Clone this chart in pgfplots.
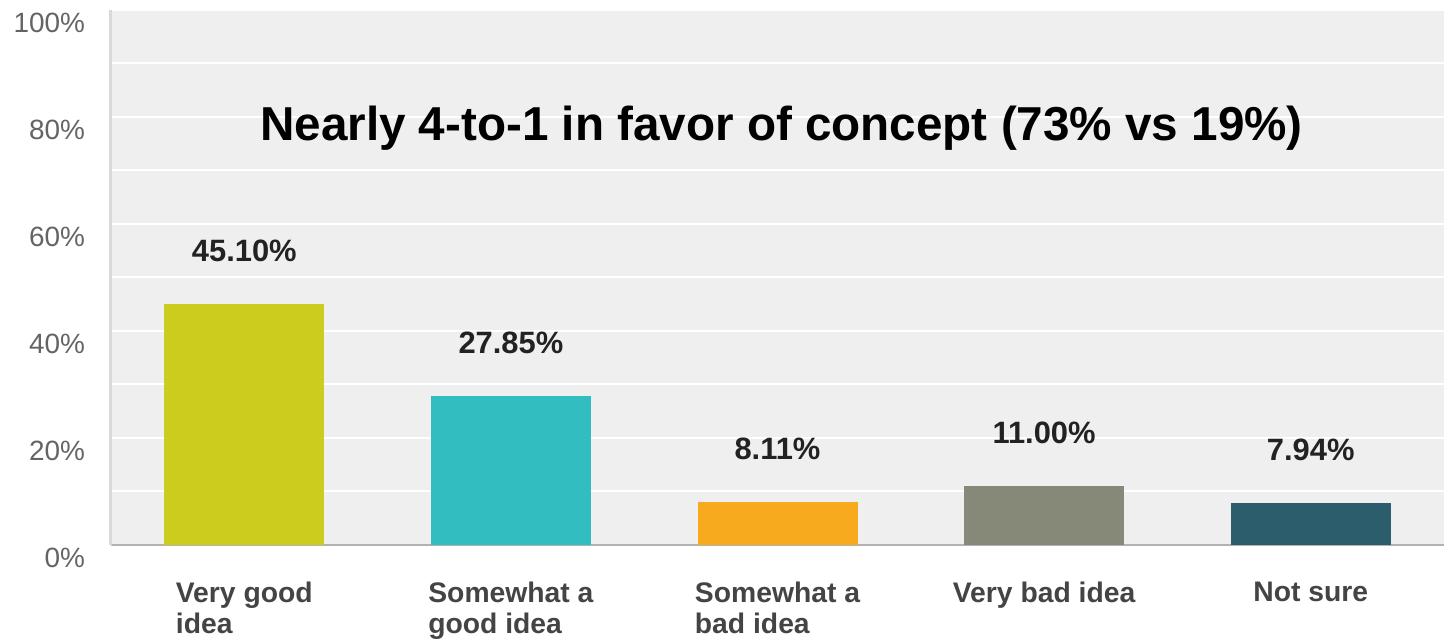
\documentclass[border=0pt]{standalone}
\usepackage{fontspec}
\setmainfont{Liberation Sans}
\usepackage{pgfplots}
\pgfplotsset{compat=1.18}
\definecolor{bgc}{RGB}{239,239,239}
\definecolor{cA}{RGB}{202,205,30}
\definecolor{cB}{RGB}{50,190,192}
\definecolor{cC}{RGB}{247,170,30}
\definecolor{cD}{RGB}{135,137,120}
\definecolor{cE}{RGB}{44,93,108}
\definecolor{tickc}{RGB}{100,100,100}
\definecolor{catc}{RGB}{68,68,68}
\definecolor{valc}{RGB}{34,34,34}
\begin{document}
\begin{tikzpicture}
\begin{axis}[
    name=ax,
    scale only axis,
    width=666.5bp, height=267.5bp,
    xmin=-0.5, xmax=4.5, ymin=0, ymax=100,
    axis background/.style={fill=bgc},
    axis x line*=bottom, axis y line*=left,
    x axis line style={draw=black!30, line width=1bp},
    y axis line style={draw=black!15, line width=1.5bp},
    ytick={0,20,...,100}, minor ytick={10,30,...,90},
    ymajorgrids, yminorgrids,
    major grid style={white, line width=1bp},
    minor grid style={white, line width=1bp},
    major tick length=0pt, minor tick length=0pt,
    /pgf/number format/assume math mode=true,
    yticklabel={\pgfmathprintnumber{\tick}\%},
    yticklabel style={font=\fontsize{14}{16}\selectfont, text=tickc, xshift=-9.5bp, yshift=-6.3bp},
    xtick={0,...,4},
    xticklabels={{Very good\\idea},{Somewhat a\\good idea},{Somewhat a\\bad idea},{Very bad idea},{Not sure}},
    xticklabel style={align=left, font=\bfseries\fontsize{14.2}{15.5}\selectfont, text=catc, yshift=-15bp},
    ybar, bar width=80bp,
    nodes near coords={\pgfmathprintnumber[fixed,fixed zerofill,precision=2]{\pgfplotspointmeta}\%},
    nodes near coords style={font=\bfseries\fontsize{15.5}{18}\selectfont, text=valc, anchor=center, yshift=26.5bp},
    clip=false,
    onebar/.style={fill=#1, draw=none, bar shift=0pt},
]
\addplot[onebar=cA] coordinates {(0,45.10)};
\addplot[onebar=cB] coordinates {(1,27.85)};
\addplot[onebar=cC] coordinates {(2,8.11)};
\addplot[onebar=cD] coordinates {(3,11.00)};
\addplot[onebar=cE] coordinates {(4,7.94)};
\node[font=\bfseries\fontsize{23.9}{28}\selectfont, text=black] at (axis cs:2.015,78) {Nearly 4-to-1 in favor of concept (73\% vs 19\%)};
\end{axis}
\pgfresetboundingbox
\path[use as bounding box] ([xshift=-55.5bp,yshift=-48bp]ax.south west) rectangle ([yshift=5bp]ax.north east);
\end{tikzpicture}
\end{document}
